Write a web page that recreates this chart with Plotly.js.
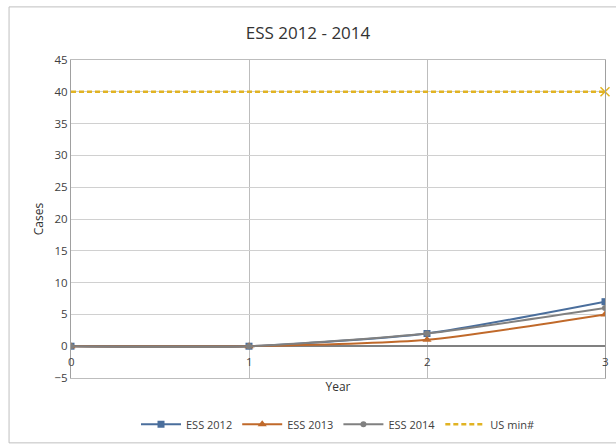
<!DOCTYPE html>
<html>
<head>
<meta charset="utf-8">
<script src="https://cdn.plot.ly/plotly-3.0.1.min.js"></script>
<style>html,body{margin:0;padding:0;background:#fff;}#chart{width:616px;height:444px;}</style>
</head>
<body>
<div id="chart"></div>
<script>
const years = [0, 1, 2, 3];
const ess2012 = [0, 0, 2, 7];
const ess2013 = [0, 0, 1, 5];
const ess2014 = [0, 0, 2, 6];
const usMin = [40, 40, 40, 40];
const xTickLabels = ['0', '1', '2', '3'];

const FONT = 'Open Sans, Liberation Sans, sans-serif';

const traces = [
  {x: years, y: ess2012, name: 'ESS 2012', type: 'scatter', mode: 'lines+markers',
   line: {color: '#4A6E9C', width: 2, shape: 'spline', smoothing: 0.6},
   marker: {symbol: 'square', size: 7, color: '#4A6E9C'}},
  {x: years, y: ess2013, name: 'ESS 2013', type: 'scatter', mode: 'lines+markers',
   line: {color: '#C0692A', width: 2, shape: 'spline', smoothing: 0.6},
   marker: {symbol: 'triangle-up', size: 8, color: '#C0692A'}},
  {x: years, y: ess2014, name: 'ESS 2014', type: 'scatter', mode: 'lines+markers',
   line: {color: '#808080', width: 2, shape: 'spline', smoothing: 0.6},
   marker: {symbol: 'circle', size: 6, color: '#808080'}},
  {x: years, y: usMin, name: 'US min#', type: 'scatter', mode: 'lines',
   line: {color: '#E1B323', width: 2.5, dash: '5px,3px'}},
  {x: [years[years.length - 1]], y: [usMin[usMin.length - 1]], name: 'US min#', type: 'scatter', mode: 'markers',
   showlegend: false, marker: {symbol: 'x-thin', size: 9, line: {color: '#E1B323', width: 1.5}}, cliponaxis: false}
];

const annotations = years.map((v, i) => ({
  x: v, y: 0, xref: 'x', yref: 'y', text: xTickLabels[i], showarrow: false,
  yanchor: 'top', yshift: -6, font: {family: FONT, size: 11.5, color: '#404040'}
}));

const layout = {
  width: 616, height: 444,
  margin: {l: 71, r: 11, t: 60, b: 66, autoexpand: false},
  paper_bgcolor: '#ffffff', plot_bgcolor: '#ffffff',
  font: {family: FONT, size: 11, color: '#404040'},
  title: {text: 'ESS 2012 - 2014', font: {family: FONT, size: 17, color: '#333333'}, x: 0.5, xanchor: 'center', y: 0.925, yanchor: 'middle'},
  xaxis: {range: [0, 3], showticklabels: false, ticks: '', showgrid: true, gridcolor: '#BDBDBD', gridwidth: 1,
          dtick: 1, zeroline: false, showline: true, linecolor: '#BDBDBD', mirror: true, automargin: false,
          title: {text: 'Year', font: {family: FONT, size: 12, color: '#333333'}, standoff: 4}},
  yaxis: {range: [-5, 45], dtick: 5, showgrid: true, gridcolor: '#D0D0D0', gridwidth: 1,
          zeroline: true, zerolinecolor: '#808080', zerolinewidth: 1.5, automargin: false,
          showline: true, linecolor: '#A0A0A0', mirror: true, ticks: '',
          tickfont: {family: FONT, size: 11.5, color: '#404040'},
          title: {text: 'Cases', font: {family: FONT, size: 12, color: '#333333'}, standoff: 8}},
  showlegend: true,
  legend: {orientation: 'h', x: 0.5, xanchor: 'center', y: -0.1, yanchor: 'top',
           font: {family: FONT, size: 11, color: '#404040'}, traceorder: 'normal', itemwidth: 40},
  annotations: annotations,
  shapes: [{type: 'rect', xref: 'paper', yref: 'paper', x0: -0.116, x1: 1.2, y0: -0.204, y1: 1.167,
            line: {color: '#BFBFBF', width: 1}, layer: 'below'}]
};

Plotly.newPlot('chart', traces, layout, {displayModeBar: false, staticPlot: true});
</script>
</body>
</html>
